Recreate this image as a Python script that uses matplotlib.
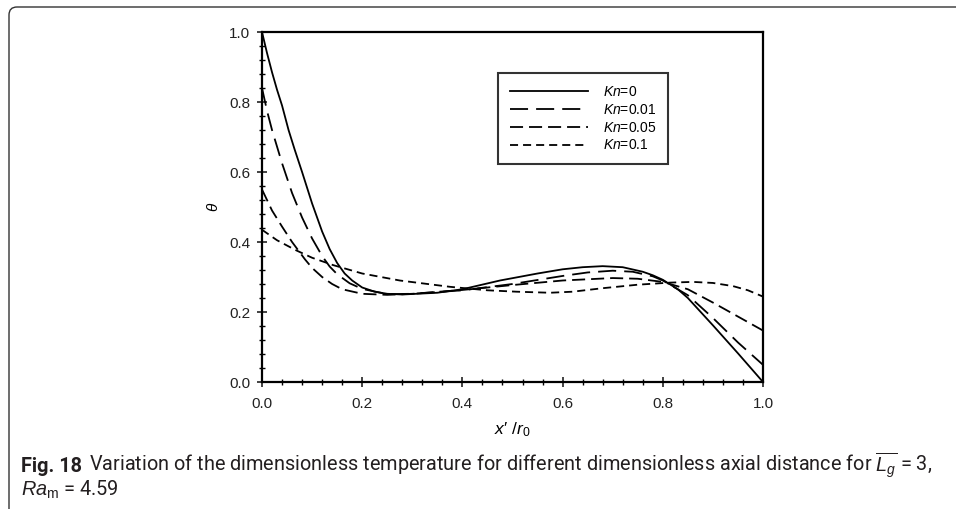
import matplotlib
matplotlib.use("Agg")
import matplotlib.pyplot as plt
from matplotlib import font_manager
from matplotlib.path import Path
from matplotlib.patches import PathPatch
from matplotlib.ticker import MultipleLocator, FormatStrFormatter

# data
labels = ["$Kn$=0", "$Kn$=0.01", "$Kn$=0.05", "$Kn$=0.1"]

x_kn0 = [0.0, 0.01, 0.02, 0.03, 0.04, 0.053, 0.065, 0.08, 0.09, 0.1, 0.12, 0.135, 0.15, 0.165,
         0.18, 0.2, 0.225, 0.25, 0.28, 0.35, 0.4, 0.475, 0.55, 0.6, 0.64, 0.68, 0.72, 0.76,
         0.78, 0.8, 0.83, 0.85, 0.9, 0.95, 1.0]
y_kn0 = [1.0, 0.94, 0.885, 0.835, 0.79, 0.72, 0.665, 0.6, 0.555, 0.51, 0.43, 0.38, 0.34, 0.31,
         0.29, 0.27, 0.258, 0.252, 0.25, 0.255, 0.265, 0.29, 0.31, 0.322, 0.328, 0.331, 0.328,
         0.315, 0.305, 0.292, 0.265, 0.24, 0.162, 0.082, 0.0]

x_kn001 = [0.0, 0.01, 0.02, 0.04, 0.06, 0.08, 0.1, 0.12, 0.135, 0.15, 0.175, 0.2, 0.25, 0.3,
           0.4, 0.5, 0.6, 0.65, 0.7, 0.74, 0.78, 0.8, 0.85, 0.9, 0.95, 1.0]
y_kn001 = [0.84, 0.775, 0.72, 0.625, 0.54, 0.47, 0.41, 0.36, 0.33, 0.308, 0.282, 0.266, 0.251,
           0.252, 0.262, 0.28, 0.303, 0.313, 0.318, 0.315, 0.302, 0.29, 0.248, 0.183, 0.113, 0.049]

x_kn005 = [0.0, 0.02, 0.04, 0.06, 0.086, 0.1, 0.12, 0.14, 0.16, 0.2, 0.25, 0.3, 0.4, 0.5, 0.6,
           0.7, 0.75, 0.8, 0.85, 0.9, 0.95, 1.0]
y_kn005 = [0.55, 0.49, 0.444, 0.4, 0.35, 0.326, 0.3, 0.28, 0.265, 0.252, 0.249, 0.252, 0.263,
           0.277, 0.29, 0.297, 0.295, 0.286, 0.265, 0.227, 0.187, 0.147]

x_kn01 = [0.0, 0.03, 0.067, 0.1, 0.142, 0.2, 0.275, 0.375, 0.45, 0.508, 0.575, 0.62, 0.68,
          0.75, 0.815, 0.86, 0.9, 0.94, 0.97, 1.0]
y_kn01 = [0.435, 0.405, 0.377, 0.355, 0.334, 0.31, 0.29, 0.272, 0.262, 0.258, 0.255, 0.258,
          0.268, 0.278, 0.284, 0.286, 0.283, 0.274, 0.262, 0.244]

series = [(x_kn0, y_kn0), (x_kn001, y_kn001), (x_kn005, y_kn005), (x_kn01, y_kn01)]
dashes = [None, (13, 5.8), (9.4, 4.3), (5.8, 3.6)]

installed = {f.name for f in font_manager.fontManager.ttflist}
cap_font = "Liberation Sans Narrow" if "Liberation Sans Narrow" in installed else "Roboto"

plt.rcParams["font.family"] = ["Liberation Sans", "DejaVu Sans"]
plt.rcParams["mathtext.fontset"] = "custom"
plt.rcParams["mathtext.it"] = "Liberation Sans:italic"
plt.rcParams["mathtext.rm"] = "Liberation Sans"
plt.rcParams["mathtext.bf"] = "Liberation Sans:bold"
plt.rcParams["lines.scale_dashes"] = False

W, H = 956, 509
fig = plt.figure(figsize=(W / 100, H / 100), dpi=100)
ax = fig.add_axes([262 / W, 1 - 382 / H, 501 / W, 350 / H])

for (xs, ys), lab, d in zip(series, labels, dashes):
    if d is None:
        ax.plot(xs, ys, color="black", lw=1.3, label=lab)
    else:
        ax.plot(xs, ys, color="black", lw=1.3, dashes=d, label=lab)

ax.set_xlim(0, 1)
ax.set_ylim(0, 1)
ax.xaxis.set_major_locator(MultipleLocator(0.2))
ax.yaxis.set_major_locator(MultipleLocator(0.2))
ax.xaxis.set_minor_locator(MultipleLocator(0.04))
ax.yaxis.set_minor_locator(MultipleLocator(0.04))
ax.xaxis.set_major_formatter(FormatStrFormatter("%.1f"))
ax.yaxis.set_major_formatter(FormatStrFormatter("%.1f"))
ax.tick_params(which="major", direction="inout", length=7, width=1.2, labelsize=11,
               pad=5, colors="#222222")
ax.tick_params(axis="x", which="major", pad=7)
ax.tick_params(which="minor", direction="inout", length=4.5, width=1.0)
for s in ax.spines.values():
    s.set_linewidth(1.6)

ax.set_xlabel("$x$\u2032 /$r_{0}$", fontsize=12.5, labelpad=7)
ax.set_ylabel(r"$\theta$", fontsize=11, labelpad=6)

leg = ax.legend(loc="upper left", bbox_to_anchor=((498 - 262) / 501, (382 - 73) / 350),
                fontsize=10, handlelength=5.6, handletextpad=1.1, labelspacing=0.28,
                borderpad=0.85, borderaxespad=0, fancybox=False, frameon=True)
leg.get_frame().set_edgecolor("black")
leg.get_frame().set_linewidth(1.5)

# figure frame with rounded top-left corner
fx = lambda px: px / W
fy = lambda py: 1 - py / H
verts = [(1.0, fy(7)), (fx(17), fy(7)), (fx(9), fy(7)), (fx(9), fy(15)), (fx(9), 0.0)]
codes = [Path.MOVETO, Path.LINETO, Path.CURVE3, Path.CURVE3, Path.LINETO]
fig.add_artist(PathPatch(Path(verts, codes), transform=fig.transFigure, fill=False,
                         edgecolor="#333333", lw=1.0))

# caption
cap_size = 14.3
fig.canvas.draw()
r = fig.canvas.get_renderer()
t1 = fig.text(fx(21), fy(472), "Fig. 18", fontsize=cap_size, fontweight="bold",
              family=cap_font, color="#231f20")
bb = t1.get_window_extent(r)
fig.text((bb.x1 + 7) / W, fy(472),
         r"Variation of the dimensionless temperature for different dimensionless axial distance for $\overline{L_g}$ = 3,",
         fontsize=cap_size, family=cap_font, color="#231f20")
fig.text(fx(21), fy(496), r"$Ra_{\mathrm{m}}$ = 4.59", fontsize=cap_size, family=cap_font,
         color="#231f20")

fig.savefig("out.png", dpi=100)
